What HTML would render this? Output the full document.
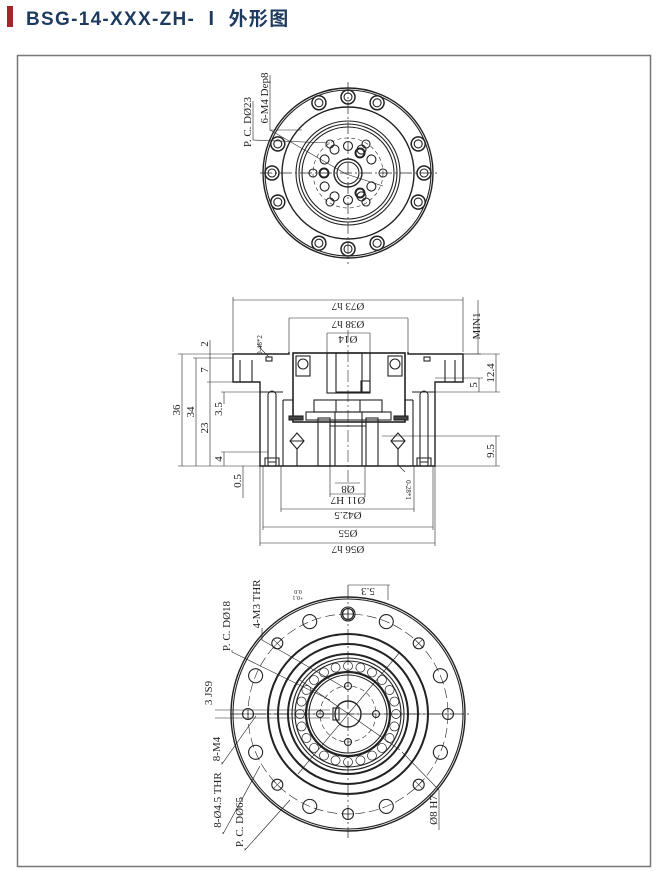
<!DOCTYPE html>
<html><head><meta charset="utf-8"><style>
html,body{margin:0;padding:0;background:#fff;width:669px;height:871px;overflow:hidden}
svg{display:block}
.t{font-family:"Liberation Serif",serif;font-size:11px;fill:#222}
</style></head><body>
<svg width="669" height="871" viewBox="0 0 669 871" xmlns="http://www.w3.org/2000/svg">
<rect x="7" y="6" width="6" height="21" fill="#a3262a"/>
<text x="26" y="25" font-family="'Liberation Sans','Noto Sans CJK SC',sans-serif" font-weight="bold" font-size="19" letter-spacing="1.3" fill="#1e3a5f">BSG-14-XXX-ZH- Ⅰ 外形图</text>
<rect x="17.5" y="55.5" width="633" height="811" fill="none" stroke="#777" stroke-width="1.5"/>

<!-- TOP VIEW -->
<g fill="none" stroke="#222" stroke-width="1.1">
<line x1="260" y1="173" x2="438" y2="173" stroke-dasharray="12,3,2,3" stroke-width="0.7"/>
<line x1="348" y1="82" x2="348" y2="264" stroke-dasharray="12,3,2,3" stroke-width="0.7"/>
<circle cx="348" cy="173" r="85" stroke-width="1.4"/>
<circle cx="348" cy="173" r="83"/>
<circle cx="348" cy="173" r="66" stroke-width="1.4"/>
<circle cx="348" cy="173" r="52"/>
<circle cx="348" cy="173" r="49"/>
<circle cx="348" cy="173" r="46"/>
<circle cx="348" cy="173" r="35" stroke-dasharray="4,3" stroke-width="0.6"/>
<circle cx="348" cy="173" r="14" stroke-width="1.4"/>
<circle cx="348" cy="173" r="11"/>
<g id="bh"><circle cx="348" cy="97" r="7" stroke-width="1.5"/><circle cx="348" cy="97" r="4"/></g>
<use href="#bh" transform="rotate(22.5 348 173)"/><use href="#bh" transform="rotate(-22.5 348 173)"/>
<use href="#bh" transform="rotate(90 348 173)"/><use href="#bh" transform="rotate(67.5 348 173)"/><use href="#bh" transform="rotate(112.5 348 173)"/>
<use href="#bh" transform="rotate(180 348 173)"/><use href="#bh" transform="rotate(157.5 348 173)"/><use href="#bh" transform="rotate(202.5 348 173)"/>
<use href="#bh" transform="rotate(270 348 173)"/><use href="#bh" transform="rotate(247.5 348 173)"/><use href="#bh" transform="rotate(292.5 348 173)"/>
<g id="sh"><circle cx="348" cy="146" r="4.5"/></g>
<use href="#sh" transform="rotate(30 348 173)"/><use href="#sh" transform="rotate(60 348 173)"/><use href="#sh" transform="rotate(120 348 173)"/><use href="#sh" transform="rotate(150 348 173)"/><use href="#sh" transform="rotate(180 348 173)"/><use href="#sh" transform="rotate(210 348 173)"/><use href="#sh" transform="rotate(240 348 173)"/><use href="#sh" transform="rotate(300 348 173)"/><use href="#sh" transform="rotate(330 348 173)"/>
<circle cx="360" cy="153" r="4.5" stroke-width="2"/><circle cx="360" cy="193" r="4.5" stroke-width="2"/><circle cx="324" cy="173" r="4.5" stroke-width="2"/>
<circle cx="313" cy="173" r="4"/><circle cx="383" cy="173" r="4"/><circle cx="330" cy="144" r="4"/><circle cx="366" cy="144" r="4"/><circle cx="330" cy="202" r="4"/><circle cx="366" cy="202" r="4"/>
<polyline points="253,101 253,140 330,143" stroke-width="0.6"/>
<polyline points="270,75 270,130 346,174" stroke-width="0.6"/>
<line x1="270" y1="130" x2="302" y2="130" stroke-width="0.6"/>
<line x1="346" y1="174" x2="383" y2="186" stroke-width="0.6"/>
</g>
<text class="t" transform="translate(251,122) rotate(-90)" text-anchor="middle">P. C. DØ23</text>
<text class="t" transform="translate(268,98) rotate(-90)" text-anchor="middle">6-M4 Dep8</text>

<!-- SECTION VIEW -->
<g fill="none" stroke="#222" stroke-width="1.1">
<polyline points="289,352 289,354 233,354 233,382 260,382 260,466 435,466 435,382 463,382 463,354 408,354 408,352" stroke-width="1.4"/>
<line x1="233" y1="352" x2="233" y2="297" stroke-width="0.6"/>
<line x1="463" y1="352" x2="463" y2="297" stroke-width="0.6"/>
<line x1="240" y1="360" x2="240" y2="382"/><line x1="252" y1="360" x2="252" y2="382"/>
<line x1="445" y1="360" x2="445" y2="382"/><line x1="455" y1="360" x2="455" y2="382"/>
<rect x="266" y="357" width="6" height="4"/><rect x="424" y="357" width="6" height="4"/>
<path d="M268,466 V394 Q272,388 276,394 V466"/><path d="M420,466 V394 Q424,388 428,394 V466"/>
<line x1="260" y1="392" x2="283" y2="392"/><line x1="412" y1="392" x2="435" y2="392"/>
<path d="M265,466 v-8 h14 v8 M268,462 h8"/><path d="M417,466 v-8 h14 v8 M420,462 h8"/>
<rect x="293" y="353" width="112" height="69" stroke-width="1.6"/>
<rect x="296" y="356" width="14" height="20"/><circle cx="303" cy="364" r="5"/>
<rect x="388" y="356" width="14" height="20"/><circle cx="395" cy="364" r="5"/>
<rect x="327" y="353" width="43" height="40"/>
<rect x="336" y="353" width="26" height="39"/>
<rect x="361" y="381" width="9" height="11"/>
<rect x="314" y="400" width="68" height="12"/>
<line x1="336" y1="400" x2="336" y2="412"/><line x1="360" y1="400" x2="360" y2="412"/>
<rect x="306" y="412" width="85" height="8"/>
<rect x="318" y="418" width="12" height="48"/><rect x="366" y="418" width="12" height="48"/>
<line x1="335" y1="412" x2="335" y2="466"/><line x1="362" y1="412" x2="362" y2="466"/>
<line x1="330" y1="426" x2="366" y2="426"/>
<line x1="283" y1="400" x2="283" y2="466"/><line x1="413" y1="400" x2="413" y2="466"/>
<line x1="283" y1="400" x2="293" y2="400"/><line x1="405" y1="400" x2="413" y2="400"/>
<rect x="289" y="416" width="14" height="4" fill="#444"/><rect x="394" y="416" width="14" height="4" fill="#444"/>
<path d="M297,433 l7,8 l-7,8 l-7,-8 z M290,441 h14"/><line x1="297" y1="449" x2="297" y2="466"/>
<path d="M398,433 l7,8 l-7,8 l-7,-8 z M391,441 h14"/><line x1="398" y1="449" x2="398" y2="466"/>
<line x1="348" y1="330" x2="348" y2="488" stroke-dasharray="12,3,2,3" stroke-width="0.6"/>
<g stroke-width="0.6">
<line x1="233" y1="300" x2="463" y2="300"/>
<line x1="289" y1="318" x2="408" y2="318"/><line x1="289" y1="318" x2="289" y2="352"/><line x1="408" y1="318" x2="408" y2="352"/>
<line x1="327" y1="333" x2="370" y2="333"/><line x1="327" y1="333" x2="327" y2="353"/><line x1="370" y1="333" x2="370" y2="353"/>
<line x1="335" y1="483" x2="360" y2="483"/>
<line x1="330" y1="494" x2="365" y2="494"/><line x1="330" y1="466" x2="330" y2="497"/><line x1="365" y1="466" x2="365" y2="497"/>
<line x1="281" y1="509" x2="414" y2="509"/><line x1="281" y1="466" x2="281" y2="512"/><line x1="414" y1="466" x2="414" y2="512"/>
<line x1="263" y1="527" x2="433" y2="527"/><line x1="263" y1="466" x2="263" y2="530"/><line x1="433" y1="466" x2="433" y2="530"/>
<line x1="260" y1="543" x2="435" y2="543"/><line x1="260" y1="466" x2="260" y2="546"/><line x1="435" y1="466" x2="435" y2="546"/>
<line x1="178" y1="466" x2="260" y2="466"/><line x1="178" y1="354" x2="233" y2="354"/>
<line x1="182" y1="354" x2="182" y2="466"/><line x1="196" y1="358" x2="196" y2="466"/><line x1="193" y1="358" x2="233" y2="358"/>
<line x1="210" y1="382" x2="210" y2="466"/><line x1="207" y1="382" x2="233" y2="382"/>
<line x1="210" y1="340" x2="210" y2="382"/>
<line x1="224" y1="392" x2="224" y2="404"/><line x1="221" y1="392" x2="268" y2="392"/>
<line x1="224" y1="452" x2="224" y2="466"/><line x1="221" y1="452" x2="268" y2="452"/>
<line x1="243" y1="466" x2="243" y2="498"/>
<line x1="408" y1="354" x2="500" y2="354"/><line x1="435" y1="392" x2="500" y2="392"/><line x1="435" y1="378" x2="483" y2="378"/>
<line x1="496" y1="354" x2="496" y2="392"/><line x1="479" y1="378" x2="479" y2="392"/>
<line x1="382" y1="436" x2="500" y2="436"/><line x1="435" y1="466" x2="500" y2="466"/>
<line x1="496" y1="436" x2="496" y2="466"/>
<line x1="463" y1="354" x2="481" y2="354"/><line x1="478" y1="300" x2="478" y2="354"/>
<polyline points="258,344 262,350 269,357"/>
<polyline points="405,472 399,466"/>
</g>
</g>
<g class="t">
<text transform="translate(348,303) rotate(180)" text-anchor="middle">Ø73 h7</text>
<text transform="translate(348,321) rotate(180)" text-anchor="middle">Ø38 h7</text>
<text transform="translate(348,336) rotate(180)" text-anchor="middle">Ø14</text>
<text transform="translate(348,486) rotate(180)" text-anchor="middle">Ø8</text>
<text transform="translate(348,497) rotate(180)" text-anchor="middle">Ø11 H7</text>
<text transform="translate(348,512) rotate(180)" text-anchor="middle">Ø42.5</text>
<text transform="translate(348,530) rotate(180)" text-anchor="middle">Ø55</text>
<text transform="translate(348,546) rotate(180)" text-anchor="middle">Ø56 h7</text>
<text transform="translate(180,410) rotate(-90)" text-anchor="middle">36</text>
<text transform="translate(194,412) rotate(-90)" text-anchor="middle">34</text>
<text transform="translate(208,428) rotate(-90)" text-anchor="middle">23</text>
<text transform="translate(208,344) rotate(-90)" text-anchor="middle">2</text>
<text transform="translate(208,370) rotate(-90)" text-anchor="middle">7</text>
<text transform="translate(222,409) rotate(-90)" text-anchor="middle">3.5</text>
<text transform="translate(222,459) rotate(-90)" text-anchor="middle">4</text>
<text transform="translate(241,481) rotate(-90)" text-anchor="middle">0.5</text>
<text transform="translate(494,373) rotate(-90)" text-anchor="middle">12.4</text>
<text transform="translate(477,385) rotate(-90)" text-anchor="middle">5</text>
<text transform="translate(494,451) rotate(-90)" text-anchor="middle">9.5</text>
<text transform="translate(480,326) rotate(-90)" text-anchor="middle">MIN1</text>
<text transform="translate(262,345) rotate(-90)" text-anchor="middle" font-size="7">0-48*2</text>
<text transform="translate(406,490) rotate(90)" text-anchor="middle" font-size="7">0-28*1</text>
</g>

<!-- BOTTOM VIEW -->
<g fill="none" stroke="#222" stroke-width="1.1">
<line x1="230" y1="714" x2="470" y2="714" stroke-dasharray="14,3,2,3" stroke-width="0.7"/>
<line x1="348" y1="585" x2="348" y2="838" stroke-dasharray="14,3,2,3" stroke-width="0.7"/>
<line x1="388" y1="585" x2="388" y2="600" stroke-width="0.6"/>
<circle cx="348" cy="714" r="117" stroke-width="1.4"/>
<circle cx="348" cy="714" r="115"/>
<circle cx="348" cy="714" r="100" stroke-dasharray="10,4" stroke-width="0.6"/>
<circle cx="348" cy="714" r="80" stroke-width="2"/>
<circle cx="348" cy="714" r="70" stroke-width="2"/>
<circle cx="348" cy="714" r="60" stroke-width="2"/>
<circle cx="348" cy="714" r="56"/>
<circle cx="348" cy="714" r="53"/>
<circle cx="348" cy="714" r="42" stroke-width="2.2"/>
<circle cx="348" cy="714" r="39"/>
<circle cx="348" cy="714" r="28" stroke-dasharray="5,3" stroke-width="0.6"/>
<circle cx="348" cy="714" r="13" stroke-width="1.4"/>
<g id="ball"><circle cx="348" cy="666" r="4.5" stroke-width="0.7"/></g>
<use href="#ball" transform="rotate(15 348 714)"/><use href="#ball" transform="rotate(30 348 714)"/><use href="#ball" transform="rotate(45 348 714)"/><use href="#ball" transform="rotate(60 348 714)"/><use href="#ball" transform="rotate(75 348 714)"/><use href="#ball" transform="rotate(90 348 714)"/><use href="#ball" transform="rotate(105 348 714)"/><use href="#ball" transform="rotate(120 348 714)"/><use href="#ball" transform="rotate(135 348 714)"/><use href="#ball" transform="rotate(150 348 714)"/><use href="#ball" transform="rotate(165 348 714)"/><use href="#ball" transform="rotate(180 348 714)"/><use href="#ball" transform="rotate(195 348 714)"/><use href="#ball" transform="rotate(210 348 714)"/><use href="#ball" transform="rotate(225 348 714)"/><use href="#ball" transform="rotate(240 348 714)"/><use href="#ball" transform="rotate(255 348 714)"/><use href="#ball" transform="rotate(270 348 714)"/><use href="#ball" transform="rotate(285 348 714)"/><use href="#ball" transform="rotate(300 348 714)"/><use href="#ball" transform="rotate(315 348 714)"/><use href="#ball" transform="rotate(330 348 714)"/><use href="#ball" transform="rotate(345 348 714)"/>
<g id="bigh"><circle cx="348" cy="614" r="7"/></g>
<g id="smh"><circle cx="348" cy="614" r="5.5"/><line x1="342" y1="614" x2="354" y2="614" stroke-width="0.5"/><line x1="348" y1="608" x2="348" y2="620" stroke-width="0.5"/></g>
<use href="#smh"/><use href="#bigh" transform="rotate(22.5 348 714)"/><use href="#smh" transform="rotate(45 348 714)"/><use href="#bigh" transform="rotate(67.5 348 714)"/><use href="#smh" transform="rotate(90 348 714)"/><use href="#bigh" transform="rotate(112.5 348 714)"/><use href="#smh" transform="rotate(135 348 714)"/><use href="#bigh" transform="rotate(157.5 348 714)"/><use href="#smh" transform="rotate(180 348 714)"/><use href="#bigh" transform="rotate(202.5 348 714)"/><use href="#smh" transform="rotate(225 348 714)"/><use href="#bigh" transform="rotate(247.5 348 714)"/><use href="#smh" transform="rotate(270 348 714)"/><use href="#bigh" transform="rotate(292.5 348 714)"/><use href="#smh" transform="rotate(315 348 714)"/><use href="#bigh" transform="rotate(337.5 348 714)"/>
<circle cx="348" cy="686" r="3.5"/><circle cx="348" cy="742" r="3.5"/><circle cx="320" cy="714" r="3.5"/><circle cx="376" cy="714" r="3.5"/>
<rect x="333" y="708" width="6" height="12"/>
<g stroke-width="0.6">
<line x1="215" y1="710" x2="330" y2="710"/><line x1="215" y1="718" x2="330" y2="718"/>
<polyline points="232,650 232,652 330,700"/><polyline points="262,628 262,640 345,688"/>
<line x1="300" y1="680" x2="400" y2="750"/>
<polyline points="222,762 222,764 256,716"/>
<polyline points="223,832 223,834 260,766"/>
<polyline points="245,848 245,850 290,800"/>
<polyline points="439,830 439,790 402,752"/>
<line x1="348" y1="585" x2="390" y2="585"/>
<line x1="255" y1="714" x2="440" y2="714"/>
<line x1="298" y1="774" x2="400" y2="652"/>
</g>
</g>
<g class="t">
<text transform="translate(230,626) rotate(-90)" text-anchor="middle">P. C. DØ18</text>
<text transform="translate(260,604) rotate(-90)" text-anchor="middle">4-M3 THR</text>
<text transform="translate(212,693) rotate(-90)" text-anchor="middle">3 JS9</text>
<text transform="translate(220,749) rotate(-90)" text-anchor="middle">8-M4</text>
<text transform="translate(221,800) rotate(-90)" text-anchor="middle">8-Ø4.5 THR</text>
<text transform="translate(243,822) rotate(-90)" text-anchor="middle">P. C. DØ65</text>
<text transform="translate(437,810) rotate(-90)" text-anchor="middle">Ø8 H7</text>
<text transform="translate(368,588) rotate(180)" text-anchor="middle">5.3</text>
<text transform="translate(298,590) rotate(180)" text-anchor="middle" font-size="6">0.0</text>
<text transform="translate(298,596) rotate(180)" text-anchor="middle" font-size="6">+0.1</text>
</g>
</svg>
</body></html>
